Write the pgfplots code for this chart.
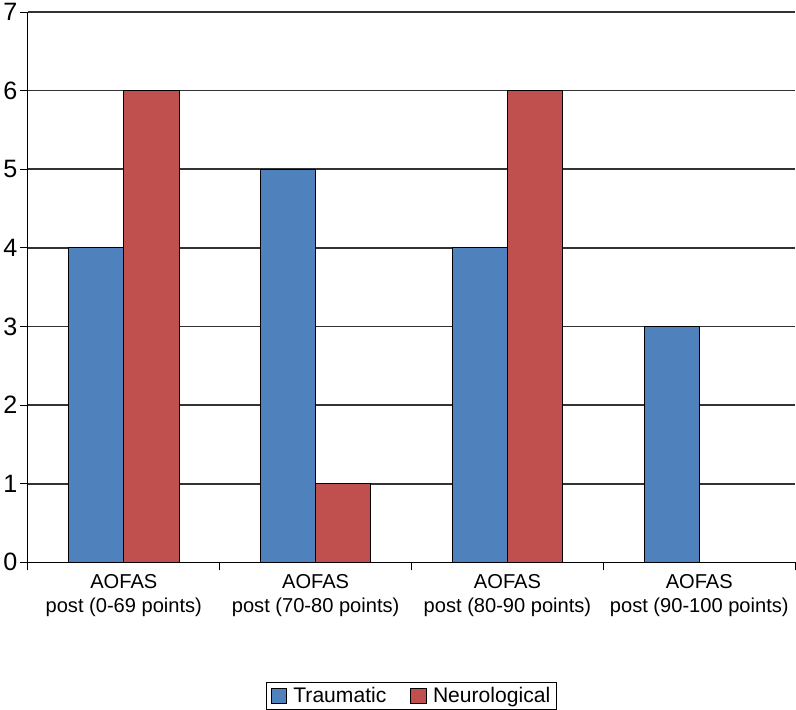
\documentclass[border=0pt]{standalone}
\usepackage{fontspec}
\setmainfont{Liberation Sans}
\usepackage{pgfplots}
\pgfplotsset{compat=1.18}
\definecolor{trblue}{HTML}{4F81BD}
\definecolor{nered}{HTML}{C0504D}
\begin{document}
\begin{tikzpicture}
\begin{axis}[
  scale only axis,
  width=764pt, height=548pt,
  xmin=-0.5, xmax=3.5,
  ymin=0, ymax=7,
  ytick={0,1,...,7},
  xtick={0,1,2,3},
  xticklabels={{AOFAS\\post (0-69 points)},{AOFAS\\post (70-80 points)},{AOFAS\\post (80-90 points)},{AOFAS\\post (90-100 points)}},
  xticklabel style={align=center, font=\fontsize{20}{23.5}\selectfont, yshift=-1pt},
  yticklabel style={font=\fontsize{25}{27}\selectfont, xshift=1pt},
  /pgf/number format/assume math mode=true,
  minor xtick={-0.5,0.5,1.5,2.5,3.5},
  x tick style={draw=none},
  minor x tick style={draw=black, line width=0.9pt},
  y tick style={draw=black, line width=0.9pt},
  tick align=outside,
  major tick length=8pt,
  minor tick length=8pt,
  axis x line*=bottom,
  axis y line*=left,
  axis line style={-, line width=1pt, black},
  ymajorgrids,
  grid style={line width=1.6pt, black!80},
  ybar,
  bar width=0.288,
  legend columns=2,
  legend style={at={(0.5,-0.268)}, anchor=south, draw=black, line width=0.9pt,
    font=\fontsize{21}{25}\selectfont, inner xsep=4pt, inner ysep=3pt,
    /tikz/every even column/.append style={column sep=22pt}},
  legend cell align=left,
  legend image code/.code={\draw[#1, line width=0.9pt] (0pt,-7.5pt) rectangle (15pt,7.5pt); \path[draw=none, fill=none] (20pt,0pt) circle[radius=0pt];},
]
\addplot[fill=trblue, draw=black, line width=0.8pt, bar shift=-0.144] coordinates {(0,4) (1,5) (2,4) (3,3)};
\addplot[fill=nered, draw=black, line width=0.8pt, bar shift=0.144] coordinates {(0,6) (1,1) (2,6)};
\legend{Traumatic, Neurological}
\end{axis}
\end{tikzpicture}
\end{document}
